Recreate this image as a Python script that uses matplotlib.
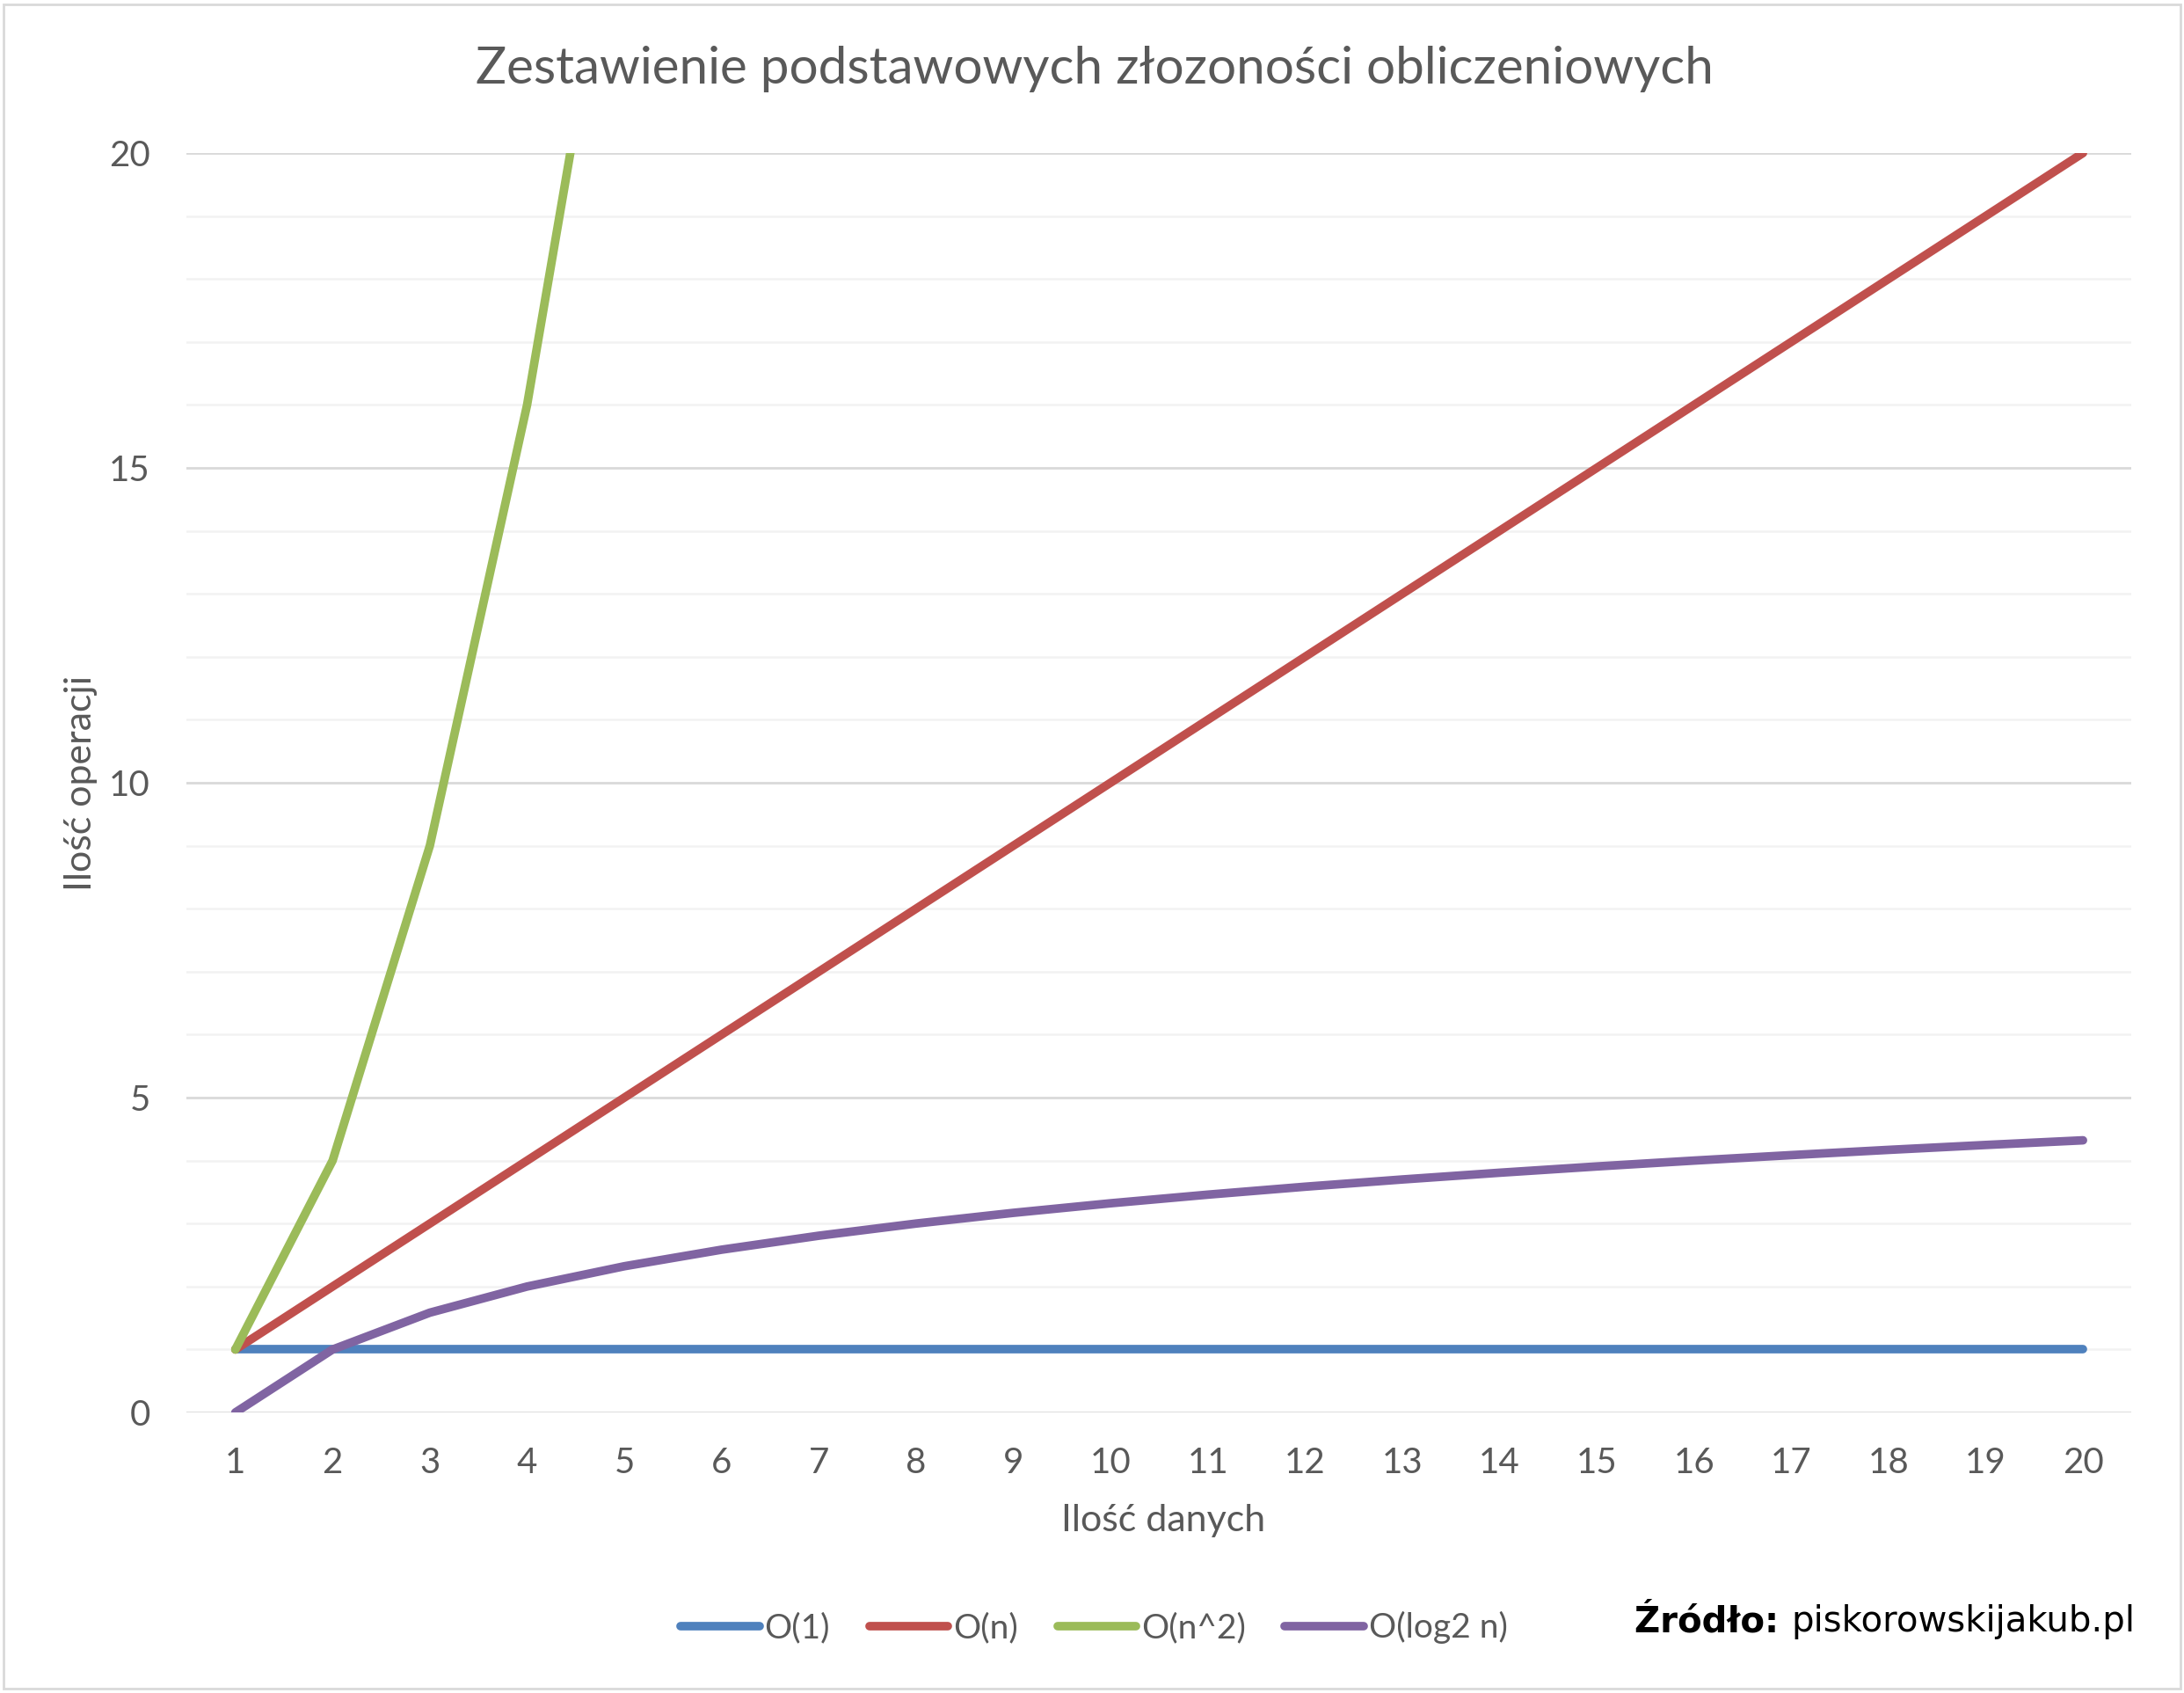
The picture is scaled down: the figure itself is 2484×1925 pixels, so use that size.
import matplotlib
matplotlib.use("Agg")
import matplotlib.pyplot as plt
from matplotlib.patches import Rectangle
from matplotlib.lines import Line2D

# ---- data ----
n_values = list(range(1, 21))
o_1 = [1] * 20
o_n = [1, 2, 3, 4, 5, 6, 7, 8, 9, 10, 11, 12, 13, 14, 15, 16, 17, 18, 19, 20]
o_n2 = [1, 4, 9, 16, 25, 36, 49, 64, 81, 100, 121, 144, 169, 196, 225, 256, 289, 324, 361, 400]
o_log2n = [0, 1, 1.585, 2, 2.322, 2.585, 2.807, 3, 3.170, 3.322, 3.459, 3.585, 3.700, 3.807,
           3.907, 4, 4.087, 4.170, 4.248, 4.322]
series_labels = ["O(1)", "O(n)", "O(n^2)", "O(log2 n)"]
series_colors = ["#4F81BD", "#C0504D", "#9BBB59", "#8064A2"]
y_ticks = [0, 5, 10, 15, 20]

title = "Zestawienie podstawowych złozoności obliczeniowych"
xlabel = "Ilość danych"
ylabel = "Ilość operacji"

FONT = ["Lato", "DejaVu Sans"]
TXT = "#595959"

fig = plt.figure(figsize=(12.42, 9.625), dpi=200)
ax = fig.add_axes([0.0855, 0.1657, 0.976 - 0.0855, 0.9096 - 0.1657])

# grid
for y in range(0, 21):
    if y % 5 == 0:
        ax.axhline(y, color="#D9D9D9", lw=1.0, zorder=0)
    else:
        ax.axhline(y, color="#F2F2F2", lw=0.9, zorder=0)

lw = 3.5
for vals, lab, col in zip([o_1, o_n, o_n2, o_log2n], series_labels, series_colors):
    ax.plot(n_values, vals, color=col, lw=lw, label=lab, solid_capstyle="round",
            solid_joinstyle="round", zorder=3)

ax.set_xlim(0.5, 20.5)
ax.set_ylim(0, 20)
ax.set_xticks(n_values)
ax.set_yticks(y_ticks)
for s in ["top", "right", "left", "bottom"]:
    ax.spines[s].set_visible(False)
ax.tick_params(axis="both", length=0, colors=TXT, labelsize=14.5)
ax.tick_params(axis="y", pad=15)
ax.tick_params(axis="x", pad=14)
for t in ax.get_xticklabels() + ax.get_yticklabels():
    t.set_family(FONT)

fig.text(0.501, 0.959, title, ha="center", va="center", fontsize=21, color=TXT, family=FONT)
fig.text(0.5325, 0.102, xlabel, ha="center", va="center", fontsize=15.5, color=TXT, family=FONT)
fig.text(0.037, 0.5375, ylabel, ha="center", va="center", rotation=90, fontsize=15.5,
         color=TXT, family=FONT)

handles = [Line2D([0], [0], color=c, lw=lw, solid_capstyle="round") for c in series_colors]
leg = fig.legend(handles, series_labels, loc="center", bbox_to_anchor=(0.501, 0.0385),
                 ncol=4, frameon=False, handlelength=2.3, handletextpad=0.15,
                 columnspacing=1.15, prop={"family": FONT, "size": 14})
for t in leg.get_texts():
    t.set_color(TXT)

fig.text(0.9775, 0.0420, "piskorowskijakub.pl", ha="right", va="center", fontsize=14.5,
         color="black", family="DejaVu Sans")
src = fig.text(0.0, 0.0, "Źródło: ", fontsize=14.5, fontweight="bold", color="black",
               family="DejaVu Sans")
# position bold prefix to the left of the URL
fig.canvas.draw()
r = fig.canvas.get_renderer()
url_text = fig.texts[-2]
bb = url_text.get_window_extent(r)
x0 = bb.x0 / fig.bbox.width
src.set_position((x0, 0.0420))
src.set_ha("right")
src.set_va("center")

fig.add_artist(Rectangle((0.0015, 0.0025), 0.997, 0.995, transform=fig.transFigure,
                         fill=False, edgecolor="#D9D9D9", lw=1.0))

fig.savefig("out.png", dpi=200)
